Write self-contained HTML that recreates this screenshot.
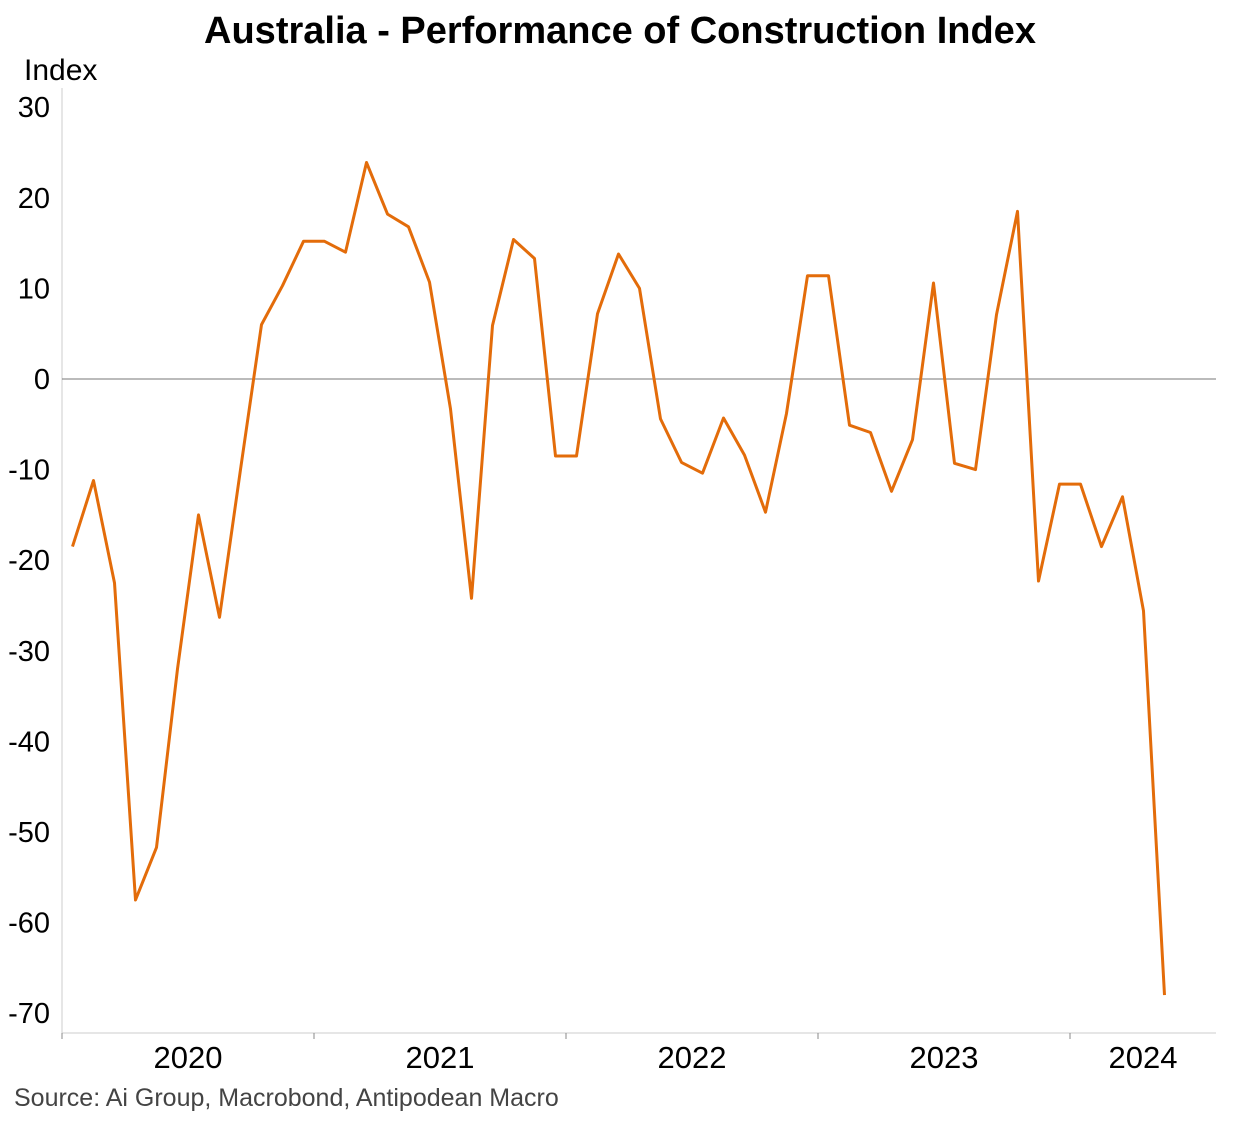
<!DOCTYPE html>
<html><head><meta charset="utf-8">
<style>
body{margin:0;background:#fff;}
svg{display:block;font-family:"Liberation Sans",Arial,sans-serif;}
</style></head>
<body>
<svg id="chart" width="1253" height="1122">
<text x="620" y="43" text-anchor="middle" font-size="38" font-weight="bold" fill="#000">Australia - Performance of Construction Index</text>
<text x="24" y="80" font-size="30" fill="#000">Index</text>
<text x="14" y="1106" font-size="25" fill="#444">Source: Ai Group, Macrobond, Antipodean Macro</text>
<g id="axes"></g>
<g id="series"></g>
</svg>
<script>
const values = [-18.5,-11.2,-22.5,-57.5,-51.7,-32,-15,-26.3,-10,6,10.3,15.2,15.2,14,23.9,18.2,16.8,10.7,-3.3,-24.2,5.9,15.4,13.3,-8.5,-8.5,7.2,13.8,10,-4.4,-9.2,-10.4,-4.3,-8.4,-14.7,-3.8,11.4,11.4,-5.1,-5.9,-12.4,-6.7,10.6,-9.3,-10,7.1,18.5,-22.3,-11.6,-11.6,-18.5,-13,-25.6,-68];
const yTicks = [30,20,10,0,-10,-20,-30,-40,-50,-60,-70];
const years = ["2020","2021","2022","2023","2024"];

const NS="http://www.w3.org/2000/svg";
const x0=62, monthW=21, y0=379, unit=9.06;
const xPos = i => x0 + monthW*(i+0.5);
const yPos = v => y0 - v*unit;
function mk(tag, attrs, parent){const e=document.createElementNS(NS,tag);for(const k in attrs)e.setAttribute(k,attrs[k]);parent.appendChild(e);return e;}
const axes=document.getElementById('axes'), series=document.getElementById('series');

let yl=mk('line',{x1:x0,y1:88,x2:x0,y2:1033,stroke:'#ccc','stroke-width':1},axes);


let xl=mk('line',{x1:x0,y1:1033,x2:1216,y2:1033,stroke:'#ccc','stroke-width':1},axes);


let zl=mk('line',{x1:x0,y1:yPos(0),x2:1216,y2:yPos(0),stroke:'#777','stroke-width':1},axes);



yTicks.forEach(v=>{
  const t=mk('text',{x:50,y:yPos(v)+10,'text-anchor':'end','font-size':29,fill:'#000'},axes);
  t.textContent=v;
  
  
});
years.forEach((yr,i)=>{
  const tx=x0+i*12*monthW;
  const tk=mk('line',{x1:tx,y1:1033,x2:tx,y2:1039,stroke:'#888','stroke-width':1},axes);
  
  
  const cx = i<years.length-1 ? tx+6*monthW : (tx+1216)/2;
  const t=mk('text',{x:cx,y:1068,'text-anchor':'middle','font-size':31,fill:'#000'},axes);
  t.textContent=yr;
  
  
});

const d=values.map((v,i)=>(i?'L':'M')+xPos(i).toFixed(1)+' '+yPos(v).toFixed(1)).join(' ');
const p=mk('path',{d:d,fill:'none',stroke:'#e36c0a','stroke-width':3,'stroke-linejoin':'round'},series);


</script>
</body></html>
